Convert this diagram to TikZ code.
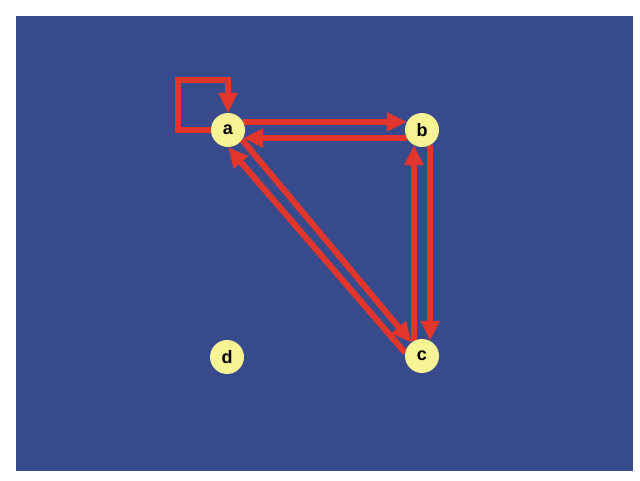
\documentclass[tikz,border=0pt]{standalone}
\usepackage{fontspec}
\setmainfont{Liberation Sans}
\usetikzlibrary{arrows.meta,backgrounds}
\definecolor{bgblue}{RGB}{55,74,140}
\definecolor{nodeyellow}{RGB}{248,244,150}
\definecolor{edgered}{RGB}{226,54,44}
\begin{document}
\begin{tikzpicture}[x=1pt, y=1pt,
    vertex/.style={circle, fill=nodeyellow, minimum size=34pt, inner sep=0pt,
        font=\fontsize{18}{20}\selectfont\bfseries},
    edge/.style={draw=edgered, line width=6pt,
        -{Triangle[width=18pt, length=20pt]}}]
    % Page with white margin
    \useasboundingbox (0,0) rectangle (640,480);

    % Vertices
    \node[vertex] (a) at (228,350) {a};
    \node[vertex] (b) at (422,350) {b};
    \node[vertex] (c) at (422,124) {c};
    \node[vertex] (d) at (227,123) {d};

    \begin{scope}[on background layer]
        % Blue canvas
        \fill[bgblue] (16,9) rectangle (633,464);

        % Self loop on a
        \draw[edge] (a.west) -| ++(-33,50) -| (a.north);

        % Pairs of opposite edges
        \draw[edge] (a.28) -- (b.152);
        \draw[edge] (b.-152) -- (a.-28);
        \draw[edge] (b.-62) -- (c.62);
        \draw[edge] (c.118) -- (b.-118);
        \draw[edge] (a.-35) -- (c.128);
        \draw[edge] (c.169) -- (a.-90);
    \end{scope}
\end{tikzpicture}
\end{document}
